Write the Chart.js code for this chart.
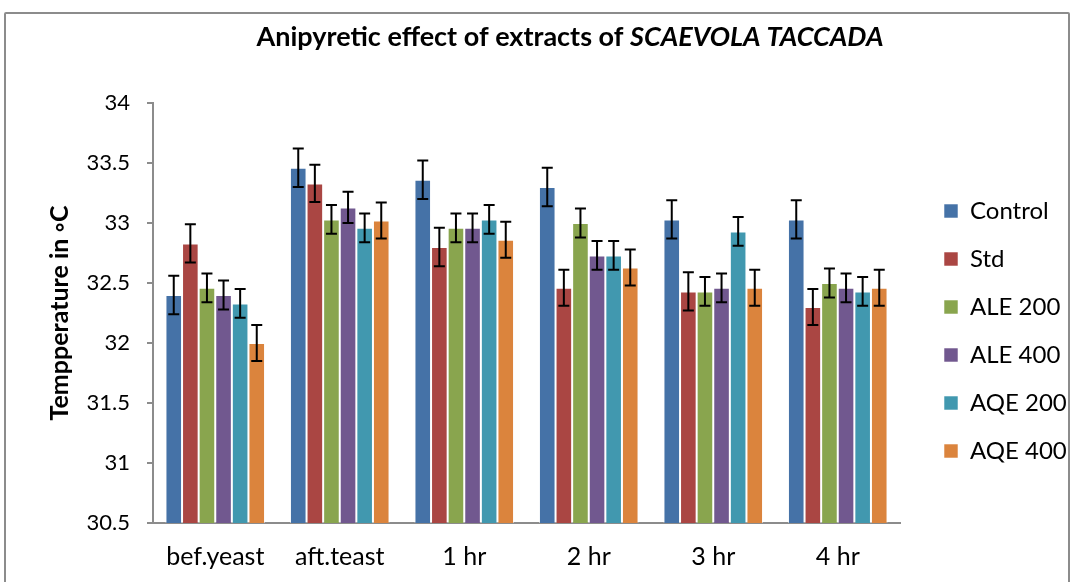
<!DOCTYPE html>
<html>
<head>
<meta charset="utf-8">
<script src="https://cdn.jsdelivr.net/npm/chart.js@4/dist/chart.umd.min.js"></script>
<style>
  html, body { margin: 0; padding: 0; background: #fff; overflow: hidden; }
  .wrap { position: relative; width: 1071px; height: 582px; }
  .frame { position: absolute; left: 4px; top: 12px; width: 1062px; height: 640px; border: 2px solid #8c8c8c; border-radius: 2px; pointer-events: none; }
  canvas { position: absolute; left: 0; top: 0; }
</style>
</head>
<body>
<div class="wrap">
  <canvas id="myChart" width="1071" height="582"></canvas>
  <div class="frame"></div>
</div>
<script>
// time points
const labels = ['bef.yeast', 'aft.teast', '1 hr', '2 hr', '3 hr', '4 hr'];

// mean temperature per group
const control = [32.40, 33.46, 33.36, 33.30, 33.03, 33.03];
const std     = [32.83, 33.33, 32.80, 32.46, 32.43, 32.30];
const ale200  = [32.46, 33.03, 32.96, 33.00, 32.43, 32.50];
const ale400  = [32.40, 33.13, 32.96, 32.73, 32.46, 32.46];
const aqe200  = [32.33, 32.96, 33.03, 32.73, 32.93, 32.43];
const aqe400  = [32.00, 33.02, 32.86, 32.63, 32.46, 32.46];

// error bar half-heights
const controlErr = [0.16, 0.16, 0.16, 0.16, 0.16, 0.16];
const stdErr     = [0.16, 0.155, 0.16, 0.15, 0.16, 0.15];
const ale200Err  = [0.12, 0.12, 0.12, 0.12, 0.12, 0.12];
const ale400Err  = [0.12, 0.13, 0.12, 0.12, 0.12, 0.12];
const aqe200Err  = [0.12, 0.12, 0.12, 0.12, 0.12, 0.12];
const aqe400Err  = [0.15, 0.15, 0.15, 0.15, 0.15, 0.15];

const FONT = 'Lato, "Open Sans", sans-serif';

function makeSet(label, data, err, color) {
  return {
    label: label,
    data: data,
    errors: err,
    backgroundColor: color,
    borderColor: 'rgba(255,255,255,0.55)',
    borderWidth: 1,
    categoryPercentage: 0.8,
    barPercentage: 1.0,
  };
}

// draws the black error whiskers on top of each bar
const errorBars = {
  id: 'errorBars',
  afterDatasetsDraw(chart) {
    const c = chart.ctx;
    const yScale = chart.scales.y;
    c.save();
    c.strokeStyle = '#000';
    c.lineWidth = 2;
    chart.data.datasets.forEach((ds, i) => {
      const meta = chart.getDatasetMeta(i);
      meta.data.forEach((bar, j) => {
        const v = ds.data[j];
        const e = ds.errors[j];
        const yTop = yScale.getPixelForValue(v + e);
        const yBot = yScale.getPixelForValue(v - e);
        const x = bar.x;
        c.beginPath();
        c.moveTo(x, yTop); c.lineTo(x, yBot);
        c.moveTo(x - 5.5, yTop); c.lineTo(x + 5.5, yTop);
        c.moveTo(x - 5.5, yBot); c.lineTo(x + 5.5, yBot);
        c.stroke();
      });
    });
    c.restore();
  },
};

// title with the species name in italics
const mixedTitle = {
  id: 'mixedTitle',
  afterDraw(chart) {
    const c = chart.ctx;
    const part1 = 'Anipyretic effect of extracts of ';
    const part2 = 'SCAEVOLA TACCADA';
    const f1 = 'bold 27px ' + FONT;
    const f2 = 'italic bold 27px ' + FONT;
    c.save();
    c.fillStyle = '#000';
    c.textBaseline = 'middle';
    c.textAlign = 'left';
    c.font = f1;
    const w1 = c.measureText(part1).width;
    c.font = f2;
    const w2 = c.measureText(part2).width;
    const x0 = 570 - (w1 + w2) / 2;
    c.font = f1;
    c.fillText(part1, x0, 37);
    c.font = f2;
    c.fillText(part2, x0 + w1, 37);
    c.restore();
  },
};

const ctx = document.getElementById('myChart').getContext('2d');

const myChart = new Chart(ctx, {
  type: 'bar',
  data: {
    labels: labels,
    datasets: [
      makeSet('Control', control, controlErr, '#4572A7'),
      makeSet('Std', std, stdErr, '#AA4643'),
      makeSet('ALE 200', ale200, ale200Err, '#89A54E'),
      makeSet('ALE 400', ale400, ale400Err, '#71588F'),
      makeSet('AQE 200', aqe200, aqe200Err, '#4198AF'),
      makeSet('AQE 400', aqe400, aqe400Err, '#DB843D'),
    ],
  },
  options: {
    responsive: false,
    animation: false,
    layout: { padding: { left: 45, right: 0, top: 103, bottom: 0 } },
    plugins: {
      title: { display: false },
      legend: {
        position: 'right',
        align: 'start',
        maxWidth: 151,
        // empty legend title only pushes the entries down
        title: { display: true, text: '', font: { size: 12 }, padding: { top: 57.6, bottom: 0 } },
        labels: {
          color: '#000',
          font: { family: FONT, size: 24 },
          boxWidth: 14,
          boxHeight: 14,
          padding: 24,
        },
      },
      tooltip: { enabled: false },
    },
    scales: {
      x: {
        grid: { display: false },
        border: { color: '#8c8c8c', width: 2 },
        ticks: { color: '#000', font: { family: FONT, size: 25 }, padding: 11 },
        afterFit(scale) { scale.height = 59; },
      },
      y: {
        min: 30.5,
        max: 34,
        ticks: {
          stepSize: 0.5,
          color: '#000',
          font: { family: FONT, size: 22 },
          padding: 17,
          callback: (v) => String(Math.round(v * 10) / 10),
        },
        grid: { drawOnChartArea: false, drawTicks: true, tickLength: 6, color: '#8c8c8c', lineWidth: 2 },
        border: { color: '#8c8c8c', width: 2 },
        title: {
          display: true,
          text: 'Tempperature in \u25E6C',
          color: '#000',
          font: { family: FONT, size: 25, weight: 'bold' },
          padding: 0,
        },
        afterFit(scale) { scale.width = 108; },
      },
      y2: {
        position: 'right',
        display: true,
        grid: { display: false },
        border: { display: false },
        ticks: { display: false },
        afterFit(scale) { scale.width = 20; },
      },
    },
  },
  plugins: [errorBars, mixedTitle],
});
</script>
</body>
</html>
